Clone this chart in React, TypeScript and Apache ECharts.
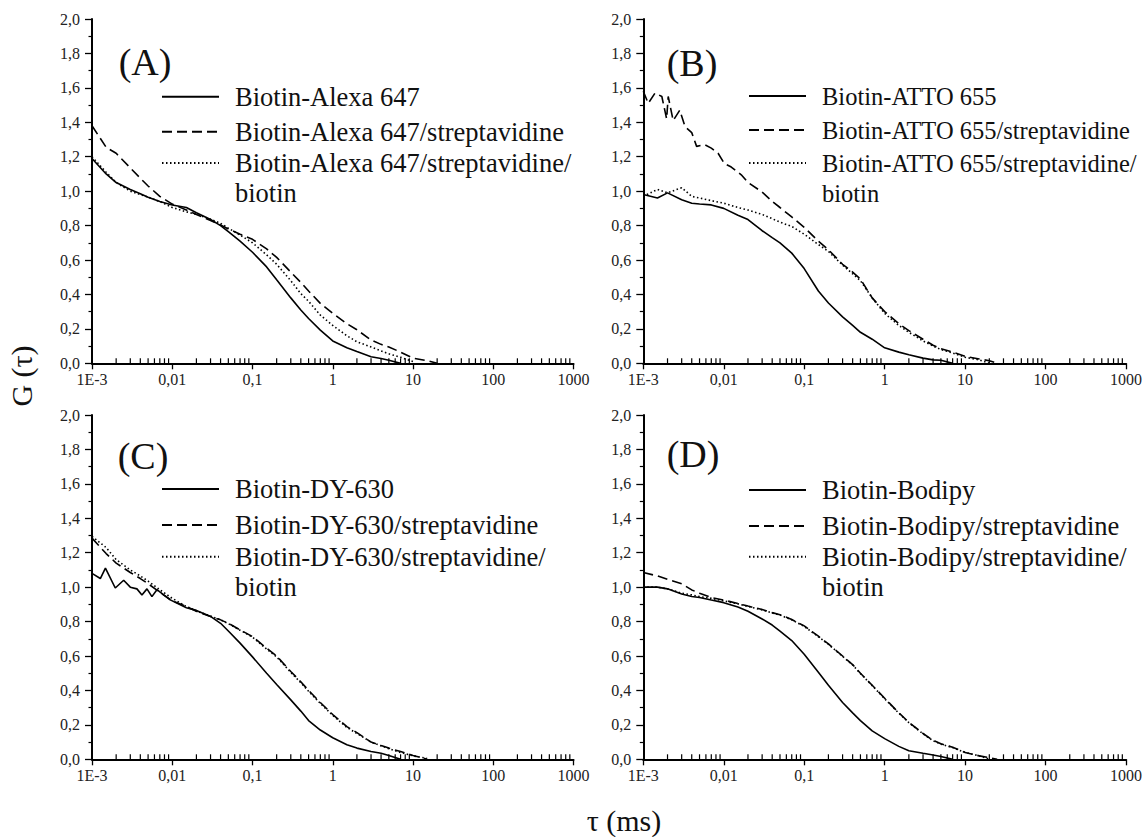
import React, { useEffect, useRef } from 'react';
import * as echarts from 'echarts';

// ---------- data ----------
const X_TICK_LABELS = ['1E-3', '0,01', '0,1', '1', '10', '100', '1000'];

// lag times tau (ms) shared by most curves
const TAU = [0.001, 0.0015, 0.002, 0.003, 0.004, 0.005, 0.007, 0.01, 0.015, 0.02, 0.03, 0.04, 0.05, 0.07, 0.1, 0.15, 0.2, 0.3, 0.4, 0.5, 0.7, 1, 1.5, 2, 3, 4, 5, 7, 10, 15, 20, 25];

// (A) Alexa 647
const A_FREE = [1.19, 1.10, 1.05, 1.01, 0.985, 0.965, 0.94, 0.92, 0.905, 0.875, 0.835, 0.80, 0.765, 0.71, 0.645, 0.56, 0.485, 0.38, 0.31, 0.26, 0.193, 0.13, 0.09, 0.068, 0.038, 0.028, 0.018, 0.0];
const A_STREP = [1.38, 1.255, 1.22, 1.135, 1.075, 1.03, 0.97, 0.925, 0.89, 0.865, 0.83, 0.804, 0.78, 0.75, 0.72, 0.665, 0.615, 0.53, 0.47, 0.42, 0.348, 0.29, 0.23, 0.195, 0.135, 0.11, 0.095, 0.065, 0.03, 0.015, 0.0];
const A_STREP_BIOTIN = [1.2, 1.11, 1.05, 1.0, 0.98, 0.965, 0.94, 0.905, 0.88, 0.865, 0.837, 0.813, 0.785, 0.745, 0.70, 0.63, 0.575, 0.48, 0.405, 0.36, 0.28, 0.22, 0.16, 0.125, 0.095, 0.072, 0.055, 0.035, 0.01];

// (B) ATTO 655
const B_FREE = [0.98, 0.96, 0.99, 0.95, 0.93, 0.925, 0.92, 0.90, 0.86, 0.835, 0.77, 0.73, 0.70, 0.64, 0.55, 0.42, 0.35, 0.27, 0.22, 0.18, 0.14, 0.09, 0.065, 0.05, 0.03, 0.02, 0.018, 0.0];
const B_STREP_TAU = [0.001, 0.00115, 0.0014, 0.0017, 0.00195, 0.00204, 0.00235, 0.00284, 0.0033, 0.004, 0.0046, 0.0058, 0.007, 0.0085, 0.0102, 0.0124, 0.0165, 0.02, 0.03, 0.04, 0.05, 0.07, 0.1, 0.15, 0.2, 0.3, 0.4, 0.5, 0.7, 1, 1.5, 2, 3, 4, 5, 7, 10, 15, 20, 25];
const B_STREP = [1.58, 1.51, 1.57, 1.55, 1.42, 1.55, 1.41, 1.47, 1.375, 1.34, 1.26, 1.27, 1.25, 1.22, 1.16, 1.14, 1.095, 1.05, 0.995, 0.94, 0.905, 0.85, 0.79, 0.71, 0.66, 0.575, 0.53, 0.49, 0.38, 0.30, 0.23, 0.19, 0.14, 0.105, 0.085, 0.065, 0.04, 0.025, 0.015, 0.0];
const B_STREP_BIOTIN = [0.97, 1.01, 0.99, 1.02, 0.97, 0.96, 0.945, 0.93, 0.905, 0.89, 0.865, 0.84, 0.82, 0.795, 0.75, 0.69, 0.65, 0.57, 0.52, 0.48, 0.38, 0.29, 0.22, 0.18, 0.13, 0.10, 0.08, 0.06, 0.035, 0.02, 0.0];

// (C) DY-630
const C_FREE_TAU = [0.001, 0.00127, 0.00147, 0.00195, 0.00248, 0.003, 0.00363, 0.00419, 0.00484, 0.00558, 0.00644, 0.00944, 0.015, 0.02, 0.03, 0.04, 0.05, 0.07, 0.1, 0.15, 0.2, 0.3, 0.4, 0.5, 0.7, 1, 1.5, 2, 3, 4, 5, 7];
const C_FREE = [1.08, 1.05, 1.11, 0.995, 1.04, 1.0, 0.99, 0.955, 0.99, 0.945, 0.985, 0.926, 0.88, 0.865, 0.83, 0.79, 0.745, 0.675, 0.595, 0.50, 0.435, 0.345, 0.28, 0.225, 0.17, 0.125, 0.085, 0.065, 0.045, 0.035, 0.022, 0.0];
const C_STREP = [1.285, 1.195, 1.14, 1.085, 1.05, 1.02, 0.97, 0.92, 0.888, 0.86, 0.83, 0.81, 0.79, 0.752, 0.713, 0.645, 0.60, 0.51, 0.45, 0.40, 0.33, 0.26, 0.19, 0.155, 0.10, 0.08, 0.065, 0.045, 0.022, 0.0];
const C_STREP_BIOTIN = [1.295, 1.23, 1.16, 1.10, 1.065, 1.035, 0.985, 0.935, 0.888, 0.862, 0.832, 0.81, 0.788, 0.75, 0.71, 0.64, 0.595, 0.505, 0.445, 0.395, 0.325, 0.255, 0.185, 0.15, 0.10, 0.078, 0.062, 0.04, 0.02, 0.005];

// (D) Bodipy
const D_FREE = [1.0, 1.0, 0.99, 0.96, 0.946, 0.94, 0.925, 0.91, 0.885, 0.86, 0.815, 0.78, 0.745, 0.69, 0.61, 0.505, 0.43, 0.33, 0.27, 0.225, 0.165, 0.12, 0.075, 0.05, 0.035, 0.025, 0.016, 0.0];
const D_STREP = [1.085, 1.065, 1.045, 1.02, 0.984, 0.965, 0.94, 0.925, 0.905, 0.89, 0.87, 0.852, 0.84, 0.812, 0.775, 0.715, 0.67, 0.60, 0.55, 0.50, 0.43, 0.355, 0.27, 0.215, 0.15, 0.11, 0.09, 0.07, 0.04, 0.02, 0.01, 0.0];
const D_STREP_BIOTIN = [1.0, 1.0, 0.99, 0.965, 0.955, 0.945, 0.935, 0.92, 0.903, 0.888, 0.868, 0.85, 0.838, 0.81, 0.772, 0.712, 0.668, 0.598, 0.548, 0.498, 0.428, 0.352, 0.268, 0.213, 0.148, 0.108, 0.088, 0.068, 0.04, 0.02, 0.0];

const PANEL_LETTERS = ['(A)', '(B)', '(C)', '(D)'];
const DYES = ['Alexa 647', 'ATTO 655', 'DY-630', 'Bodipy'];
const PANEL_VALUES = [
  [A_FREE, A_STREP, A_STREP_BIOTIN],
  [B_FREE, B_STREP, B_STREP_BIOTIN],
  [C_FREE, C_STREP, C_STREP_BIOTIN],
  [D_FREE, D_STREP, D_STREP_BIOTIN],
];
const PANEL_TAUS = [
  [TAU, TAU, TAU],
  [TAU, B_STREP_TAU, TAU],
  [C_FREE_TAU, TAU, TAU],
  [TAU, TAU, TAU],
];
const SUFFIXES = ['', '/streptavidine', '/streptavidine/biotin'];

// ---------- layout / style ----------
const W = 1145;
const H = 837;
const GRIDS = [
  { left: 92, top: 19, width: 481.5, height: 344.3 },
  { left: 643.3, top: 19, width: 485, height: 344.3 },
  { left: 92, top: 415, width: 481.5, height: 344.3 },
  { left: 643.3, top: 415, width: 485, height: 344.3 },
];
const LEGEND_LEFT = [161, 748, 161, 748];
const LEGEND_FONT = [26.5, 24.5, 26.5, 26.5];
const LEGEND_CY = [
  [96.7, 131.7, 163],
  [96, 130, 163],
  [489, 525, 556.7],
  [490, 526, 556.7],
];
const LETTER_POS = [[145, 62], [692, 63], [143, 456], [693, 454]];
const SERIF = '"Liberation Serif", "Times New Roman", serif';
const DASHES: any[] = ['solid', [10, 5], [1.5, 2.5]];

export default function App() {
  const ref = useRef<HTMLDivElement>(null);

  useEffect(() => {
    if (!ref.current) return;
    const chart = echarts.init(ref.current, undefined, { renderer: 'svg' });

    // log-decade minor tick positions (2..9 x 10^k), in log10 units
    const minorTicks: number[][] = [];
    for (let d = -3; d < 3; d++) {
      for (let k = 2; k <= 9; k++) minorTicks.push([d + Math.log10(k), 0]);
    }

    const grid = GRIDS.map((g) => ({ ...g, containLabel: false }));
    const xAxis = GRIDS.map((_, i) => ({
      type: 'value',
      gridIndex: i,
      min: -3,
      max: 3,
      interval: 1,
      axisLine: { show: true, onZero: false, lineStyle: { color: '#000', width: 2 } },
      axisTick: { show: true, inside: false, length: 6, lineStyle: { color: '#000', width: 1.3 } },
      splitLine: { show: false },
      axisLabel: {
        formatter: (v: number) => X_TICK_LABELS[Math.round(v) + 3] ?? '',
        fontFamily: SERIF,
        fontSize: 16,
        color: '#222',
        margin: 8,
      },
    }));
    const yAxis = GRIDS.map((_, i) => ({
      type: 'value',
      gridIndex: i,
      min: 0,
      max: 2,
      interval: 0.2,
      axisLine: { show: true, onZero: false, lineStyle: { color: '#000', width: 2 } },
      axisTick: { show: true, inside: false, length: 7, lineStyle: { color: '#000', width: 1.3 } },
      minorTick: { show: true, splitNumber: 2, length: 3.5, lineStyle: { color: '#000', width: 1.2 } },
      splitLine: { show: false },
      axisLabel: {
        formatter: (v: number) => v.toFixed(1).replace('.', ','),
        fontFamily: SERIF,
        fontSize: 16,
        color: '#222',
        margin: 12,
      },
    }));

    const series: any[] = [];
    const legend: any[] = [];
    PANEL_VALUES.forEach((vals, p) => {
      vals.forEach((arr, s) => {
        const name = 'Biotin-' + DYES[p] + SUFFIXES[s];
        const taus = PANEL_TAUS[p][s];
        series.push({
          type: 'line',
          name,
          xAxisIndex: p,
          yAxisIndex: p,
          data: arr.map((g, j) => [Math.log10(taus[j]), g]),
          symbol: 'none',
          showSymbol: false,
          silent: true,
          lineStyle: { color: '#000', width: 1.6, type: DASHES[s] },
          itemStyle: { color: '#000' },
        });
        const twoLine = s === 2;
        legend.push({
          data: [name],
          orient: 'vertical',
          left: LEGEND_LEFT[p],
          top: LEGEND_CY[p][s] - (twoLine ? 45 : 15),
          padding: 0,
          itemWidth: 57,
          itemHeight: 14,
          selectedMode: false,
          itemStyle: { opacity: 0 },
          lineStyle: { width: 2 },
          formatter: twoLine
            ? (n: string) => '\n' + n.replace(/\/biotin$/, '/\nbiotin')
            : (n: string) => n,
          textStyle: {
            fontFamily: SERIF,
            fontSize: LEGEND_FONT[p],
            color: '#111',
            lineHeight: 30,
            padding: [0, 0, 0, 11],
          },
        });
      });
      series.push({
        type: 'custom',
        name: 'minor-' + p,
        xAxisIndex: p,
        yAxisIndex: p,
        silent: true,
        data: minorTicks,
        renderItem: (_params: any, api: any) => {
          const pt = api.coord([api.value(0), 0]);
          return {
            type: 'line',
            shape: { x1: pt[0], y1: pt[1], x2: pt[0], y2: pt[1] - 5 },
            style: { stroke: '#000', lineWidth: 1.2 },
          };
        },
      });
    });

    const graphic: any[] = PANEL_LETTERS.map((t, i) => ({
      type: 'text',
      x: LETTER_POS[i][0],
      y: LETTER_POS[i][1],
      style: {
        text: t,
        fontFamily: SERIF,
        fontSize: 38,
        fill: '#111',
        align: 'center',
        verticalAlign: 'middle',
        textAlign: 'center',
        textVerticalAlign: 'middle',
      },
    }));
    graphic.push({
      type: 'text',
      x: 21,
      y: 376,
      rotation: Math.PI / 2,
      style: {
        text: 'G (τ)',
        fontFamily: SERIF,
        fontSize: 30,
        fill: '#111',
        align: 'center',
        verticalAlign: 'middle',
        textAlign: 'center',
        textVerticalAlign: 'middle',
      },
    });
    graphic.push({
      type: 'text',
      x: 624,
      y: 820,
      style: {
        text: 'τ (ms)',
        fontFamily: SERIF,
        fontSize: 30,
        fill: '#111',
        align: 'center',
        verticalAlign: 'middle',
        textAlign: 'center',
        textVerticalAlign: 'middle',
      },
    });

    chart.setOption({
      animation: false,
      backgroundColor: '#fff',
      grid,
      xAxis,
      yAxis,
      legend,
      series,
      graphic,
    });

    return () => chart.dispose();
  }, []);

  return (
    <div
      ref={ref}
      style={{ position: 'absolute', left: 0, top: 0, width: W, height: H, background: '#fff' }}
    />
  );
}
